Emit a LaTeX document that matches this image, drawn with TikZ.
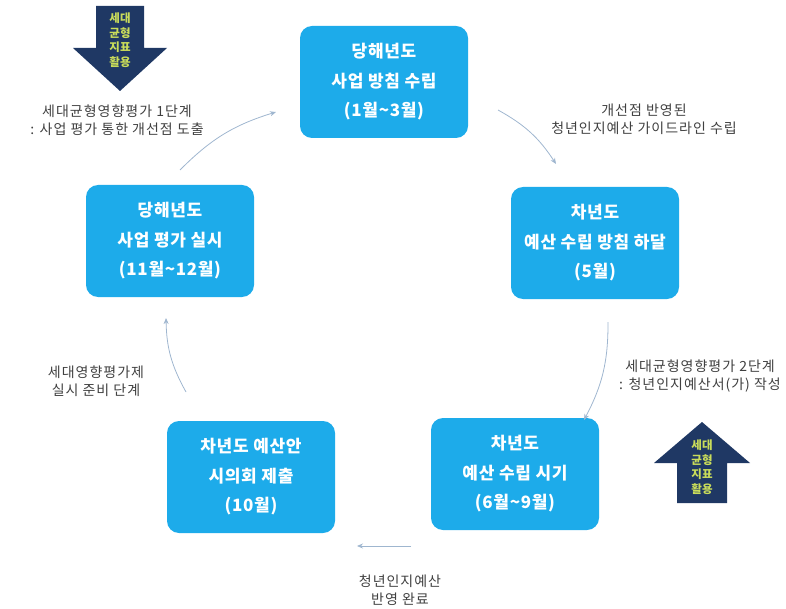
\documentclass[tikz,border=0pt]{standalone}
\usepackage{fontspec}
\setmainfont{Noto Sans CJK KR}
\usetikzlibrary{arrows.meta}
\definecolor{boxblue}{HTML}{1DABEA}
\definecolor{navy}{HTML}{1F3864}
\definecolor{arrowtxt}{HTML}{C9DC5A}
\definecolor{linecol}{HTML}{9FB6CF}
\definecolor{labelcol}{HTML}{404040}
\tikzset{
  stagebox/.style={fill=boxblue, rounded corners=12pt, minimum width=168pt, minimum height=112pt,
    text=white, align=center, font=\fontsize{17}{29.5}\selectfont\bfseries\addfontfeatures{LetterSpace=4}, inner sep=0pt},
  flowlabel/.style={text=labelcol, align=center, font=\fontsize{14}{18}\selectfont\addfontfeatures{LetterSpace=7}, inner sep=0pt},
  cyclearrow/.style={draw=linecol, line width=0.8pt, -{Stealth[length=6pt,width=5pt]}},
  bigarrow/.style={fill=navy, draw=none},
  arrowtext/.style={text=arrowtxt, align=center, font=\fontsize{11.5}{14.5}\selectfont\bfseries, inner sep=0pt}
}
\begin{document}
\begin{tikzpicture}[x=1pt,y=-1pt]
\useasboundingbox (0,0) rectangle (786,609);
% stage boxes
\node[stagebox] (top) at (384,82) {당해년도\\사업 방침 수립\\(1월\textasciitilde3월)};
\node[stagebox] (right) at (595,243) {차년도\\예산 수립 방침 하달\\(5월)};
\node[stagebox] (bright) at (515,474) {차년도\\예산 수립 시기\\(6월\textasciitilde9월)};
\node[stagebox] (bleft) at (251,477) {차년도 예산안\\시의회 제출\\(10월)};
\node[stagebox] (left) at (170,241) {당해년도\\사업 평가 실시\\(11월\textasciitilde12월)};
% connector end points
\coordinate (a1s) at (180,170); \coordinate (a1e) at (276,112);
\coordinate (a2s) at (498,110); \coordinate (a2e) at (556,164);
\coordinate (a3s) at (608,322); \coordinate (a3e) at (584,420);
\coordinate (a4s) at (411,546); \coordinate (a4e) at (357,546);
\coordinate (a5s) at (186,392); \coordinate (a5e) at (166,318);
\draw[cyclearrow] (a1s) to[bend left=14] (a1e);
\draw[cyclearrow] (a2s) to[bend left=14] (a2e);
\draw[cyclearrow] (a3s) to[bend left=14] (a3e);
\draw[cyclearrow] (a4s) -- (a4e);
\draw[cyclearrow] (a5s) to[bend left=14] (a5e);
% labels
\node[flowlabel] (l1) at (117,120) {세대균형영향평가 1단계\\: 사업 평가 통한 개선점 도출};
\node[flowlabel] (l2) at (644,119) {개선점 반영된\\청년인지예산 가이드라인 수립};
\node[flowlabel] (l3) at (700,376) {세대균형영향평가 2단계\\: 청년인지예산서(가) 작성};
\node[flowlabel] (l4) at (96,381) {세대영향평가제\\실시 준비 단계};
\node[flowlabel] (l5) at (400,590) {청년인지예산\\반영 완료};
% big arrows
\path[bigarrow] (96,6) -- (144,6) -- (144,48) -- (167,48) -- (120,91) -- (73,48) -- (96,48) -- cycle;
\node[arrowtext] (t1) at (120,40) {세대\\균형\\지표\\활용};
\path[bigarrow] (677,503) -- (727,503) -- (727,463) -- (750,463) -- (702,422) -- (654,463) -- (677,463) -- cycle;
\node[arrowtext] (t2) at (702,467) {세대\\균형\\지표\\활용};
\end{tikzpicture}
\end{document}
